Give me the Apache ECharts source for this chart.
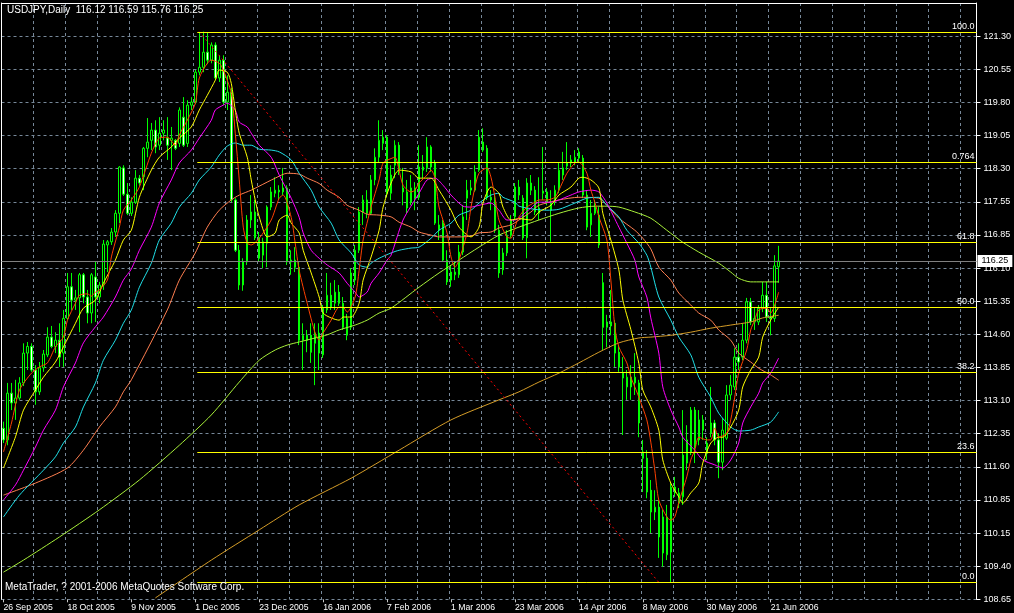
<!DOCTYPE html>
<html>
<head>
<meta charset="utf-8">
<script src="https://cdn.jsdelivr.net/npm/echarts/dist/echarts.min.js"></script>
<style>
html,body{margin:0;padding:0;background:#000;}
#chart{width:1014px;height:613px;}
</style>
</head>
<body>
<div id="chart"></div>
<script>
// ---------- data ----------
const symbolTitle = 'USDJPY,Daily';
const copyrightText = 'MetaTrader, ? 2001-2006 MetaQuotes Software Corp.';
const firstTradingDay = [2005, 8, 26];   // 26 Sep 2005
const slotCount = 244;                    // bars + empty shift area
const monthNames = ['Jan','Feb','Mar','Apr','May','Jun','Jul','Aug','Sep','Oct','Nov','Dec'];

const barOpen = [
112.49,112.23,113.28,113.06,113.17,113.51,114.18,114.33,113.80,113.31,
113.85,114.14,114.54,114.33,114.47,114.18,114.96,115.67,115.37,115.42,
115.94,115.44,115.08,115.89,115.44,115.71,116.61,116.68,116.90,117.32,
118.34,117.75,117.32,117.57,118.11,118.14,118.78,118.96,119.19,118.85,
119.12,119.01,118.96,118.96,118.89,119.48,118.89,119.75,119.82,120.49,
120.60,120.94,120.76,121.10,120.36,120.76,119.82,120.04,117.62,116.49,
115.71,116.23,117.17,117.35,116.77,116.38,116.65,117.46,117.77,117.84,
117.80,117.89,116.23,116.27,116.11,114.47,114.58,114.58,114.40,114.63,
114.14,115.15,115.48,115.30,115.55,115.30,114.58,114.76,115.82,116.49,
117.35,117.62,117.32,118.07,118.58,118.89,119.03,117.77,118.40,118.85,
117.89,117.80,117.57,117.89,117.68,118.36,118.34,118.81,118.45,117.06,
117.10,116.27,116.00,115.94,115.94,116.45,117.66,117.84,117.84,118.29,
118.92,118.78,117.68,117.62,116.94,116.05,116.43,116.83,117.24,117.91,
117.66,116.77,118.00,117.84,117.32,117.77,117.80,117.55,117.62,117.84,
118.18,118.38,118.45,118.47,118.56,118.56,117.73,117.06,117.32,117.28,
115.76,114.76,114.88,114.85,114.20,113.73,113.42,113.64,113.51,113.51,
111.96,111.82,111.10,110.61,110.72,110.50,109.65,109.71,111.17,111.04,
110.95,111.71,111.96,112.90,112.23,112.68,112.16,112.38,112.61,112.23,
111.73,112.27,113.24,113.42,114.09,114.09,114.47,115.33,114.88,114.88,
115.19,115.48,114.99,114.96,116.12];
const barClose = [
112.23,113.28,113.06,113.17,113.51,114.18,114.33,113.80,113.31,113.85,
114.16,114.54,114.33,114.47,114.09,114.96,115.67,115.37,115.42,115.94,
115.44,115.08,115.94,115.44,115.71,116.63,116.68,116.90,117.32,118.36,
117.75,117.32,117.57,118.11,118.00,118.78,118.92,119.19,118.81,119.12,
119.19,118.85,119.01,118.78,119.64,118.85,119.75,119.82,120.49,120.60,
120.94,120.76,121.10,120.36,120.76,119.82,120.04,117.62,116.49,115.71,
116.23,117.17,117.35,116.77,116.31,116.68,117.46,117.80,117.84,117.80,
117.89,116.23,116.27,116.11,114.47,114.58,114.47,114.20,114.63,114.18,
115.19,115.48,115.21,115.55,115.30,114.76,114.96,115.98,116.49,117.35,
117.62,117.32,118.07,118.58,118.96,119.03,117.77,118.18,118.85,118.29,
117.80,117.44,117.89,117.66,118.36,118.29,118.81,118.36,117.10,116.94,
116.27,115.78,115.82,116.00,116.45,117.24,117.84,117.89,118.25,119.03,
118.74,117.68,117.62,116.94,115.98,116.43,116.83,117.17,117.91,117.73,
116.77,118.00,117.84,117.35,117.44,117.82,117.57,117.39,117.84,118.29,
118.34,118.45,118.52,118.58,118.70,117.73,117.01,117.32,117.46,116.61,
114.76,114.88,114.79,114.18,113.87,113.62,113.64,113.42,113.64,112.61,
111.82,111.06,110.61,110.72,110.05,109.69,110.50,111.17,111.04,110.81,
111.89,112.23,112.90,112.07,112.68,112.45,111.93,112.61,112.23,111.73,
112.45,113.24,113.46,114.09,113.98,114.47,115.33,114.88,114.96,115.19,
115.48,114.99,114.96,116.14,116.25];
const barLow = [
112.16,112.11,112.90,112.68,113.13,113.44,113.80,113.76,113.02,113.24,
113.76,114.09,114.29,114.18,113.87,113.87,114.92,115.15,115.15,114.65,
115.30,114.85,114.85,114.88,115.30,115.60,116.00,116.61,116.79,117.10,
117.71,117.28,117.26,117.53,117.93,117.84,118.58,118.74,118.67,118.74,
118.96,118.52,118.29,118.74,118.81,118.81,118.81,119.64,119.77,120.42,
120.49,120.67,120.69,120.31,120.27,119.75,119.64,117.57,116.45,115.60,
115.58,116.16,116.99,116.72,116.23,116.09,116.11,117.39,117.68,117.62,
117.73,116.16,115.94,116.00,114.36,113.80,114.20,113.96,113.46,113.80,
114.07,115.08,115.15,115.15,115.24,114.70,114.47,114.70,115.71,116.43,
117.06,117.21,117.28,117.95,118.47,118.74,117.68,117.62,118.11,118.18,
117.50,117.32,117.50,117.39,117.62,118.11,118.25,118.25,117.06,116.72,
116.23,115.71,115.67,115.82,115.87,116.38,117.17,117.73,117.80,118.25,
118.70,117.62,117.39,116.88,115.87,115.94,116.36,116.77,117.17,117.62,
116.72,116.31,117.73,117.28,117.17,117.62,117.50,116.68,117.50,117.77,
118.07,118.29,118.36,118.40,118.47,117.66,116.94,116.79,117.28,116.54,
114.25,114.31,114.58,113.87,113.76,112.34,113.13,113.13,113.24,112.29,
111.06,110.92,110.14,110.43,109.58,109.38,109.53,109.04,110.95,110.70,
110.77,111.55,111.89,111.71,112.11,112.23,111.78,112.29,112.11,111.37,
111.55,112.23,113.13,113.35,113.80,114.02,114.40,114.81,114.70,114.81,
115.10,114.88,114.58,114.88,115.76];
const barHigh = [
112.64,113.51,113.51,113.58,113.64,114.40,114.43,114.40,113.91,113.98,
114.25,114.76,114.79,114.65,114.85,115.15,115.98,115.98,115.60,115.98,
115.98,115.60,115.98,116.23,115.78,116.72,116.72,116.99,117.39,118.38,
118.40,118.00,117.68,118.29,118.18,118.81,119.46,119.35,119.41,119.48,
119.41,119.48,119.26,118.99,119.70,119.93,119.86,119.93,120.54,121.39,
121.40,121.37,121.16,121.16,120.87,120.87,120.42,120.13,117.66,116.61,
116.31,117.28,117.73,117.62,116.90,116.77,117.50,117.91,118.13,117.95,
118.34,117.95,116.49,116.56,116.23,114.85,114.70,114.85,114.85,114.85,
115.26,115.98,115.76,115.82,115.71,115.44,115.06,116.09,116.61,117.46,
117.73,117.84,118.18,118.78,119.41,119.19,119.08,118.40,118.96,118.92,
118.34,118.07,118.18,118.02,118.85,118.63,119.03,118.85,118.52,117.28,
117.17,116.49,116.16,116.23,116.61,117.50,118.07,118.07,118.40,119.19,
119.23,118.85,117.84,117.73,117.06,116.54,116.94,117.28,118.00,118.07,
117.73,118.11,118.18,117.93,118.13,118.81,117.89,117.84,117.95,118.45,
118.70,118.92,118.63,118.74,118.78,118.63,117.84,117.62,117.62,117.46,
115.98,115.04,115.60,114.92,114.36,114.09,113.80,113.91,114.18,113.58,
112.23,112.00,111.33,111.10,110.88,110.66,110.77,111.26,111.40,111.15,
112.90,112.56,112.97,112.97,112.90,112.79,112.29,113.42,112.68,112.38,
112.72,113.46,113.69,114.29,114.40,114.85,115.42,115.42,115.19,115.26,
115.78,115.78,115.19,116.38,116.59];

// moving-average lines: [bar index, price]
const maRed = [[0,111.96],[2,112.61],[4,113.35],[7,113.73],[9,113.87],[11,113.96],[13,114.32],[15,114.54],[16,114.92],[18,115.30],[19,115.48],[21,115.51],[22,115.46],[23,115.55],[24,115.60],[26,115.82],[27,116.34],[29,117.01],[30,117.39],[32,117.62],[34,117.91],[37,118.67],[39,119.01],[41,119.03],[43,118.85],[44,119.08],[46,119.41],[48,119.79],[49,120.36],[51,120.69],[52,120.76],[54,120.69],[55,120.54],[57,120.02],[58,119.12],[59,118.07],[60,117.01],[61,116.65],[62,116.61],[64,116.76],[67,117.17],[69,117.66],[70,117.73],[72,117.23],[73,116.65],[74,116.04],[76,115.30],[78,114.63],[79,114.47],[80,114.63],[82,114.92],[84,115.21],[85,115.21],[86,115.10],[88,115.44],[89,116.04],[90,116.72],[92,117.46],[94,118.07],[95,118.45],[97,118.55],[98,118.58],[99,118.29],[100,117.95],[102,117.80],[103,117.84],[104,118.00],[106,118.18],[107,118.29],[108,118.11],[109,117.46],[111,116.88],[112,116.34],[113,116.11],[114,116.27],[116,116.88],[117,117.46],[118,117.91],[119,118.22],[121,118.34],[122,118.13],[123,117.68],[124,117.17],[126,116.79],[127,116.76],[128,117.01],[129,117.24],[131,117.46],[133,117.57],[134,117.62],[136,117.62],[138,117.68],[139,117.84],[141,118.22],[143,118.45],[144,118.47],[146,118.22],[147,117.84],[148,117.57],[149,117.24],[151,116.72],[152,115.82],[153,114.76],[154,114.32],[156,113.96],[157,113.64],[158,113.42],[159,113.19],[161,112.68],[162,112.18],[163,111.55],[164,110.88],[166,110.50],[167,110.43],[168,110.50],[169,110.83],[171,111.40],[172,111.78],[173,112.00],[174,112.29],[176,112.23],[177,112.23],[178,112.50],[179,112.29],[181,112.38],[182,112.68],[183,113.19],[184,113.73],[186,114.25],[187,114.70],[188,114.92],[189,115.15],[191,115.19],[192,115.08],[193,115.26],[194,115.55]];
const maYellow = [[0,111.60],[3,112.30],[5,112.90],[8,113.35],[10,113.64],[13,113.98],[15,114.32],[18,114.85],[20,115.19],[23,115.37],[25,115.75],[28,116.27],[30,116.72],[32,116.94],[34,117.68],[37,118.29],[39,118.58],[42,118.81],[44,119.01],[47,119.26],[49,119.64],[51,119.97],[53,120.31],[54,120.54],[56,120.49],[57,120.24],[58,119.64],[59,119.12],[61,118.58],[62,118.07],[63,117.62],[64,117.24],[66,116.79],[68,116.88],[69,117.17],[71,117.28],[72,117.10],[74,116.88],[75,116.49],[77,115.98],[79,115.44],[80,115.08],[82,114.97],[84,114.92],[85,114.99],[87,114.99],[89,115.30],[90,115.82],[92,116.34],[94,116.94],[95,117.46],[97,118.00],[99,118.29],[102,118.25],[104,118.11],[107,118.11],[109,117.84],[112,117.39],[114,117.01],[117,116.79],[119,117.01],[120,117.55],[122,117.91],[124,117.77],[125,117.46],[127,117.17],[129,117.20],[132,117.17],[134,117.35],[137,117.50],[139,117.73],[142,117.91],[144,118.11],[145,118.13],[147,118.07],[149,117.89],[150,117.32],[152,116.72],[154,116.05],[155,115.37],[157,114.71],[159,113.95],[160,113.35],[162,112.97],[164,112.45],[165,111.78],[167,111.26],[169,110.95],[170,110.81],[172,111.04],[174,111.26],[175,111.71],[177,112.16],[179,112.29],[180,112.29],[182,112.52],[184,112.90],[185,113.42],[187,113.80],[189,114.09],[190,114.54],[192,114.92],[194,115.21]];
const maMagenta = [[0,110.88],[3,111.22],[5,111.55],[8,112.07],[10,112.45],[13,112.90],[15,113.42],[18,113.96],[20,114.41],[23,114.77],[25,114.99],[28,115.44],[30,115.82],[32,116.07],[34,116.49],[37,117.01],[39,117.55],[42,118.07],[44,118.45],[47,118.74],[49,119.01],[52,119.41],[53,119.64],[55,119.75],[56,119.79],[58,119.64],[59,119.37],[61,119.26],[62,119.12],[64,118.85],[67,118.58],[69,118.18],[72,117.66],[74,117.23],[75,116.88],[77,116.49],[79,116.31],[81,116.16],[84,115.98],[86,115.75],[88,115.55],[89,115.44],[91,115.55],[92,115.75],[94,115.98],[96,116.27],[97,116.38],[100,117.17],[104,117.77],[106,118.07],[108,118.11],[110,117.95],[112,117.73],[115,117.48],[117,117.46],[119,117.50],[122,117.55],[124,117.39],[126,117.17],[128,117.17],[129,117.21],[132,117.44],[134,117.57],[137,117.57],[139,117.62],[142,117.73],[144,117.80],[147,117.84],[149,117.80],[151,117.55],[154,117.01],[156,116.65],[158,116.27],[159,115.89],[161,115.44],[162,114.97],[164,114.18],[165,113.42],[167,112.90],[169,112.52],[170,112.29],[173,112.00],[175,111.78],[178,111.67],[180,111.60],[182,111.78],[184,112.16],[185,112.61],[187,112.97],[189,113.28],[190,113.51],[192,113.73],[194,114.07]];
const maCyan = [[0,110.50],[4,110.99],[10,111.55],[13,111.85],[15,112.16],[18,112.52],[20,112.97],[23,113.51],[25,114.02],[28,114.47],[30,114.85],[32,115.15],[34,115.66],[37,116.20],[39,116.72],[42,117.10],[44,117.46],[47,117.77],[49,118.07],[52,118.36],[54,118.63],[56,118.83],[58,118.90],[60,118.85],[62,118.85],[64,118.76],[67,118.74],[69,118.70],[72,118.52],[74,118.22],[77,117.84],[79,117.46],[82,117.10],[84,116.72],[87,116.43],[89,116.16],[91,116.11],[92,116.20],[94,116.31],[97,116.43],[99,116.49],[102,116.54],[104,116.56],[107,116.76],[109,116.94],[112,117.10],[114,117.28],[117,117.39],[119,117.55],[122,117.73],[124,117.77],[125,117.68],[128,117.57],[129,117.48],[133,117.41],[136,117.39],[139,117.41],[143,117.55],[146,117.66],[149,117.68],[151,117.50],[154,117.24],[156,116.94],[159,116.65],[161,116.38],[162,116.11],[164,115.44],[167,114.92],[169,114.54],[172,114.14],[174,113.64],[177,113.19],[179,112.83],[182,112.52],[184,112.43],[187,112.45],[189,112.52],[192,112.63],[194,112.86]];
const maSalmon = [[0,110.99],[8,111.26],[16,111.60],[20,112.00],[24,112.52],[28,112.97],[30,113.31],[32,113.58],[41,115.15],[44,115.82],[48,116.43],[51,117.01],[54,117.39],[57,117.62],[59,117.73],[62,117.84],[64,117.93],[68,118.11],[71,118.22],[74,118.20],[76,118.11],[79,117.99],[81,117.84],[84,117.68],[86,117.50],[89,117.39],[91,117.30],[94,117.28],[97,117.24],[99,117.12],[102,117.01],[104,116.90],[107,116.83],[109,116.79],[114,116.79],[117,116.81],[119,116.88],[122,116.90],[124,116.99],[127,117.06],[129,117.17],[132,117.35],[134,117.50],[139,117.62],[144,117.68],[149,117.66],[151,117.50],[154,117.21],[158,116.94],[160,116.76],[162,116.52],[164,116.11],[167,115.82],[169,115.53],[172,115.26],[174,115.08],[177,114.92],[179,114.70],[182,114.47],[184,114.18],[187,113.98],[189,113.84],[192,113.69],[194,113.57]];
const maLime = [[0,109.26],[5,109.53],[14,110.05],[24,110.66],[34,111.33],[44,112.11],[52,112.79],[59,113.53],[64,114.02],[68,114.25],[71,114.36],[74,114.43],[78,114.52],[81,114.59],[84,114.70],[88,114.81],[91,114.92],[94,115.08],[97,115.19],[104,115.66],[109,115.98],[114,116.27],[119,116.56],[124,116.83],[129,117.01],[134,117.17],[139,117.32],[144,117.44],[148,117.48],[151,117.48],[154,117.46],[158,117.35],[162,117.21],[166,116.94],[170,116.67],[174,116.45],[179,116.20],[182,116.00],[184,115.86],[187,115.78],[190,115.78],[194,115.78]];
const maGold = [[38,108.68],[52,109.53],[64,110.21],[74,110.77],[87,111.37],[99,112.00],[112,112.68],[124,113.13],[129,113.31],[134,113.53],[139,113.73],[144,113.96],[149,114.20],[154,114.41],[159,114.52],[162,114.54],[167,114.58],[172,114.65],[177,114.74],[182,114.81],[187,114.88],[190,114.97],[194,115.03]];

// price axis
const yMin = 108.65;
const yStep = 12.65 / 17;
const yLabels = ['108.65','109.40','110.15','110.85','111.60','112.35','113.10','113.85','114.60','115.35','116.10','116.85','117.55','118.30','119.05','119.80','120.55','121.30'];

// Fibonacci retracement object
const fibStartBar = 49;
const fibLabels = ['100.0','0.764','61.8','50.0','38.2','23.6','0.0'];
const fibPrices = [121.40,118.47,116.67,115.21,113.75,111.95,109.03];
const trendFrom = [49, 121.40];
const trendTo = [164, 109.03];

// ---------- build ----------
const categories = [];
for (let t = Date.UTC(firstTradingDay[0], firstTradingDay[1], firstTradingDay[2]); categories.length < slotCount; t += 86400000) {
  const d = new Date(t); const wd = d.getUTCDay();
  if (wd === 0 || wd === 6) continue;
  categories.push(d.getUTCDate() + ' ' + monthNames[d.getUTCMonth()] + ' ' + d.getUTCFullYear());
}
const nBars = barOpen.length;
const candleData = barOpen.map((o, i) => [o, barClose[i], barLow[i], barHigh[i]]);
const last = nBars - 1;
const titleText = symbolTitle + '  ' + [barOpen[last], barHigh[last], barLow[last], barClose[last]].map(v => v.toFixed(2)).join(' ');
const yMax = yMin + yStep * 18;
const FONT = 'Liberation Sans';

function maSeries(name, data, color) {
  return { name, type: 'line', data, showSymbol: false, symbol: 'none', smooth: 0.25, z: 3,
    lineStyle: { color, width: 1 }, silent: true, clip: true };
}

const chart = echarts.init(document.getElementById('chart'), null, { renderer: 'canvas' });
chart.setOption({
  animation: false,
  backgroundColor: '#000',
  graphic: [
    { type: 'text', left: 7, top: 5, z: 10, style: { text: titleText, fill: '#fff', fontSize: 10, fontFamily: FONT } },
    { type: 'text', left: 5, top: 582, z: 10, style: { text: copyrightText, fill: '#fff', fontSize: 10, fontFamily: FONT } }
  ],
  grid: { left: 1.5, right: 36.5, top: 3, bottom: 613 - 599.3, containLabel: false },
  xAxis: [{
    type: 'category', data: categories, boundaryGap: true,
    axisLine: { show: false },
    axisTick: { show: true, interval: (i) => i % 16 === 0 && i < nBars, alignWithLabel: true, length: 3, lineStyle: { color: '#c8c8c8' } },
    axisLabel: { interval: (i) => i % 16 === 0 && i < nBars, align: 'left', color: '#fff', fontSize: 8.7, fontFamily: FONT, margin: 4 },
    splitLine: { show: true, interval: (i) => i % 8 === 0, lineStyle: { color: '#778899', type: [3, 3], width: 1 } }
  }, {
    type: 'category', data: categories, position: 'top', boundaryGap: true,
    axisLine: { show: true, lineStyle: { color: '#fff' } }, axisTick: { show: false }, axisLabel: { show: false }, splitLine: { show: false }
  }],
  yAxis: [{
    type: 'value', position: 'right', min: yMin, max: yMax, interval: yStep, scale: true,
    axisLine: { show: true, lineStyle: { color: '#fff' } },
    axisTick: { show: true, length: 4, lineStyle: { color: '#fff' } },
    axisLabel: { color: '#fff', fontSize: 9, fontFamily: FONT, margin: 7, showMaxLabel: false,
      formatter: (v) => { const k = Math.round((v - yMin) / yStep); return (k >= 0 && k < yLabels.length && Math.abs(v - (yMin + k * yStep)) < 1e-6) ? yLabels[k] : ''; } },
    splitLine: { show: true, lineStyle: { color: '#778899', type: [3, 3], width: 1 } }
  }, {
    type: 'value', position: 'left', min: yMin, max: yMax, scale: true,
    axisLine: { show: true, lineStyle: { color: '#fff' } }, axisTick: { show: false }, axisLabel: { show: false }, splitLine: { show: false }
  }],
  series: [
    {
      name: 'USDJPY', type: 'candlestick', data: candleData, barWidth: 2, z: 2, silent: true,
      itemStyle: { color: '#000000', color0: '#ffffff', borderColor: '#00ff00', borderColor0: '#00ff00', borderWidth: 1 },
      markLine: {
        silent: true, symbol: 'none', animation: false,
        lineStyle: { color: '#808080', type: 'solid', width: 1 },
        label: { show: true, position: 'end', distance: 1, formatter: barClose[last].toFixed(2), color: '#000', backgroundColor: '#fff', padding: [2, 4, 1, 4], fontSize: 9, fontFamily: FONT },
        data: [{ yAxis: barClose[last] }]
      }
    },
    maSeries('MA gold', maGold, '#d59d28'),
    maSeries('MA lime', maLime, '#a8f03a'),
    maSeries('MA salmon', maSalmon, '#ff7f50'),
    maSeries('MA cyan', maCyan, '#20e0e8'),
    maSeries('MA magenta', maMagenta, '#ff00ff'),
    maSeries('MA yellow', maYellow, '#ffff00'),
    maSeries('MA red', maRed, '#ff4000'),
    {
      name: 'trend', type: 'line', data: [trendFrom, trendTo], showSymbol: false, symbol: 'none', z: 4, silent: true,
      lineStyle: { color: '#ff0000', width: 1, type: [2, 3] }
    },
    {
      name: 'fibo', type: 'custom', z: 5, silent: true,
      data: fibPrices.map((p, k) => [fibStartBar, p, k]),
      renderItem: (params, api) => {
        const s = api.coord([api.value(0), api.value(1)]);
        const right = params.coordSys.x + params.coordSys.width;
        const y = Math.round(s[1]) + 0.5;
        const k = api.value(2);
        return { type: 'group', children: [
          { type: 'line', shape: { x1: s[0] - 2, y1: y, x2: right, y2: y }, style: { stroke: '#ffff00', lineWidth: 1 } },
          { type: 'text', style: { text: fibLabels[k], x: right - 2, y: y - 1, align: 'right', verticalAlign: 'bottom', fill: '#fff', fontSize: 9, fontFamily: FONT } }
        ] };
      }
    }
  ]
});
</script>
</body>
</html>
